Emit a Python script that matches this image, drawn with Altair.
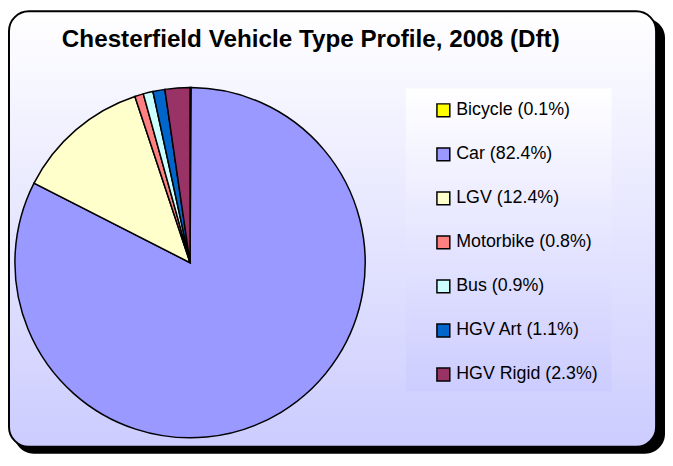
import altair as alt
import pandas as pd

categories = ["Bicycle", "Car", "LGV", "Motorbike", "Bus", "HGV Art", "HGV Rigid"]
shares = [0.1, 82.4, 12.4, 0.8, 0.9, 1.1, 2.3]
colors = ["#FFFF00", "#9999FF", "#FFFFCC", "#FF8080", "#CCFFFF", "#0066CC", "#993366"]
title_text = "Chesterfield Vehicle Type Profile, 2008 (Dft)"

labels = [f"{c} ({v}%)" for c, v in zip(categories, shares)]
df = pd.DataFrame({"label": labels, "share": shares, "idx": list(range(len(labels)))})

W, H = 664, 450

shadow = alt.Chart(pd.DataFrame({"a": [0]})).mark_rect(
    fill="black", cornerRadius=20
).encode(x=alt.value(6), x2=alt.value(664), y=alt.value(8), y2=alt.value(448))

frame = alt.Chart(pd.DataFrame({"a": [0]})).mark_rect(
    fill=alt.Gradient(gradient="linear", x1=0, x2=0, y1=0, y2=1,
                      stops=[alt.GradientStop(offset=0, color="#FFFFFF"),
                             alt.GradientStop(offset=1, color="#CCCCFF")]),
    stroke="black", strokeWidth=2, cornerRadius=20
).encode(x=alt.value(1), x2=alt.value(655), y=alt.value(1), y2=alt.value(441))

legend_box = alt.Chart(pd.DataFrame({"a": [0]})).mark_rect(
    fill=alt.Gradient(gradient="linear", x1=0, x2=0, y1=0, y2=1,
                      stops=[alt.GradientStop(offset=0, color="#FFFFFF"),
                             alt.GradientStop(offset=1, color="#CCCCFF")]),
).encode(x=alt.value(402), x2=alt.value(610), y=alt.value(79), y2=alt.value(385))

title = alt.Chart(pd.DataFrame({"t": [title_text]})).mark_text(
    font="Liberation Sans", fontWeight="bold", fontSize=24.5, color="black",
    align="center", baseline="alphabetic"
).encode(x=alt.value(306), y=alt.value(37.5), text="t:N")

pie = alt.Chart(df).mark_arc(
    radius=177, stroke="black", strokeWidth=1.5
).encode(
    theta=alt.Theta("share:Q", stack=True),
    order=alt.Order("idx:Q"),
    color=alt.Color("label:N", sort=labels,
                    scale=alt.Scale(domain=labels, range=colors),
                    legend=alt.Legend(title=None, orient="none", legendX=431, legendY=92,
                                      symbolType="square", symbolSize=169,
                                      symbolStrokeColor="black", symbolStrokeWidth=1.5,
                                      symbolOpacity=1,
                                      labelFont="Liberation Sans", labelFontSize=18,
                                      labelColor="black", labelOffset=4,
                                      rowPadding=24.5, padding=0)),
    x=alt.value(184), y=alt.value(255),
)

chart = alt.layer(shadow, frame, legend_box, title, pie).properties(
    width=W, height=H, padding=0,
    autosize=alt.AutoSizeParams(type="fit", contains="padding"),
    background="white",
).configure_view(stroke=None)

chart.save("out.html", embed_options={"renderer": "svg", "actions": False})
